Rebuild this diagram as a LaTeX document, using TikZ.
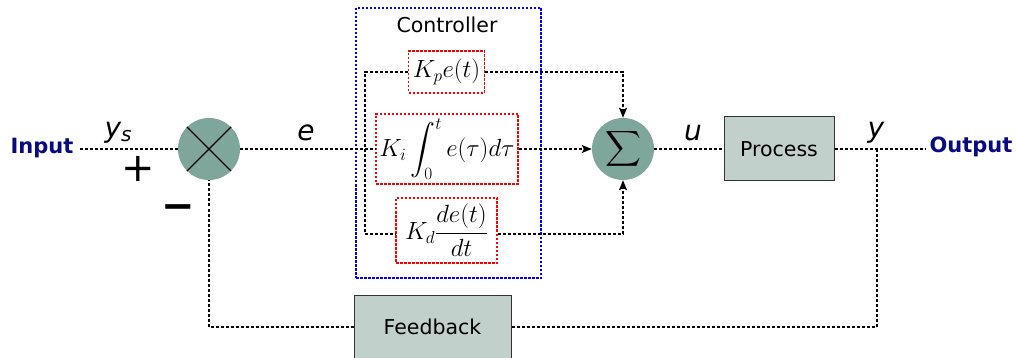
\documentclass[tikz,border=0pt]{standalone}
\usepackage{amsmath}
\usepackage[no-math]{fontspec}
\setmainfont{DejaVu Sans}
\usetikzlibrary{arrows.meta}
\definecolor{nodegreen}{RGB}{127,166,155}
\definecolor{boxgrey}{RGB}{194,208,204}
\definecolor{labelnavy}{RGB}{10,10,128}
\begin{document}
\begin{tikzpicture}[x=1pt,y=-1pt,
  sig/.style={draw=black,line width=1.3pt,dash pattern=on 3pt off 2pt},
  tip/.style={-{Stealth[length=10pt,width=8pt,inset=2pt]}},
  junction/.style={circle,fill=nodegreen,minimum size=62pt,inner sep=0pt},
  block/.style={draw=black!80,line width=1pt,fill=boxgrey,inner sep=0pt,
    font=\fontsize{20.5}{24}\selectfont},
  pidbox/.style={draw=red,line width=1.2pt,dash pattern=on 2.5pt off 1.5pt,
    inner sep=0pt,font=\fontsize{24}{28}\selectfont},
  ctrlbox/.style={draw=blue,line width=1.2pt,dash pattern=on 2.5pt off 1.5pt},
  io/.style={text=labelnavy,font=\fontsize{21}{24}\selectfont\bfseries},
  sigtext/.style={font=\fontsize{28}{30}\selectfont\itshape},
  signs/.style={font=\fontsize{40}{40}\selectfont}]
\useasboundingbox (0,0) rectangle (1017,358);

% outer controller frame
\node[ctrlbox,minimum width=185pt,minimum height=270pt,inner sep=0pt] (ctrl) at (448.5,143) {};
\node[font=\fontsize{20.5}{24}\selectfont] (ctrltitle) at (447,25) {Controller};

% P, I and D terms
\node[pidbox,minimum width=76pt,minimum height=42pt] (kp) at (446.5,72) {$K_pe(t)$};
\node[pidbox,minimum width=142pt,minimum height=70pt] (ki) at (447,149) {$\displaystyle K_i\int_0^t e(\tau)d\tau$};
\node[pidbox,minimum width=101pt,minimum height=65pt] (kd) at (446.5,230.5) {$\displaystyle K_d\frac{de(t)}{dt}$};
\coordinate (kdin) at ([yshift=-3.5pt]kd.west);
\coordinate (kdout) at ([yshift=-3.5pt]kd.east);

% comparator and summing junction
\node[junction] (cmp) at (209,149) {};
\draw[line width=1.1pt] (cmp.45) -- (cmp.225) (cmp.135) -- (cmp.315);
\node[junction] (sum) at (623,149) {\fontsize{34}{34}\selectfont$\displaystyle\sum$};

% plant and feedback blocks
\node[block,minimum width=110pt,minimum height=64pt] (proc) at (779,149) {Process};
\node[block,minimum width=157pt,minimum height=64pt] (fb) at (432.5,327) {Feedback};

% input / output labels
\node[io] (inp) at (42,148) {Input};
\node[io] (outp) at (971,147) {Output};
\coordinate (inend) at (80,149);
\coordinate (outend) at (925,149);
\coordinate (tap) at (365,149);
\coordinate (branch) at (877,149);

% signal labels
\node[sigtext] (ys) at (118,133) {y\raisebox{-0.25ex}{\fontsize{20}{20}\selectfont s}};
\node[sigtext] (elab) at (306,133) {e};
\node[sigtext] (ulab) at (693,133) {u};
\node[sigtext] (ylab) at (876,133) {y};
\node[signs] (plus) at (138,169) {+};
\node[signs] (minus) at (178,212) {\textbf{−}};

% connectors
\draw[sig] (inend) -- (cmp.west);
\draw[sig] (cmp.east) -- (ki.west);
\draw[sig] (kp.west) -| (tap) |- (kdin);
\draw[sig,tip] (kp.east) -| (sum.north);
\draw[sig,tip] (ki.east) -- (sum.west);
\draw[sig,tip] (kdout) -| (sum.south);
\draw[sig] (sum.east) -- (proc.west);
\draw[sig] (proc.east) -- (outend);
\draw[sig] (branch) |- (fb.east);
\draw[sig] (fb.west) -| (cmp.south);
\end{tikzpicture}
\end{document}
